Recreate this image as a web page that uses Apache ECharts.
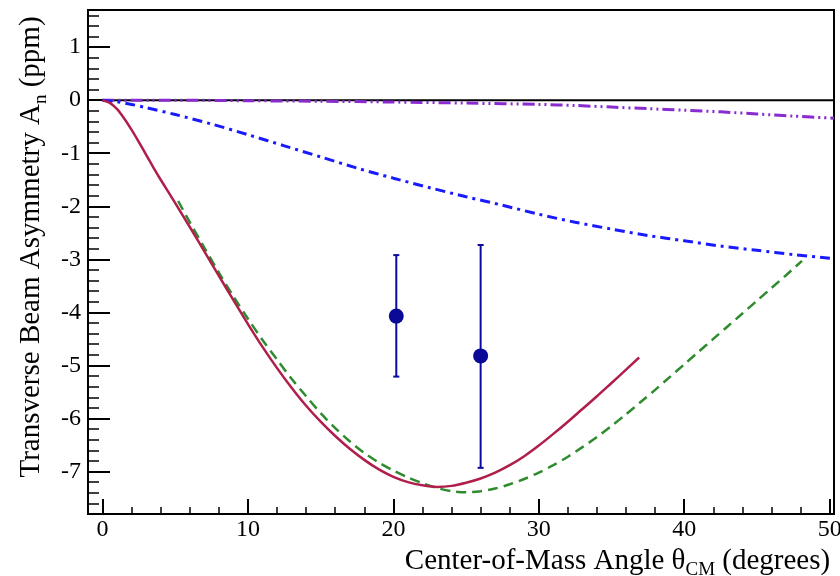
<!DOCTYPE html>
<html>
<head>
<meta charset="utf-8">
<script src="https://cdn.jsdelivr.net/npm/echarts@6/dist/echarts.min.js"></script>
<style>
  html, body { margin: 0; padding: 0; background: #fff; }
  #chart { width: 840px; height: 576px; }
</style>
</head>
<body>
<div id="chart"></div>
<script>
// curves: [angle (deg), asymmetry (ppm)]
const redCurve = [
  [0, 0], [0.5, -0.05], [1, -0.17], [1.5, -0.35], [2, -0.56], [2.5, -0.79], [3, -1.03],
  [3.5, -1.27], [4, -1.5], [5, -1.94], [6, -2.39], [7, -2.85], [8, -3.31], [9, -3.77],
  [10, -4.22], [11, -4.65], [12, -5.05], [13, -5.42], [14, -5.76], [15, -6.06], [16, -6.33],
  [17, -6.57], [18, -6.78], [19, -6.96], [20, -7.1], [21, -7.2], [22, -7.26], [23, -7.29],
  [24, -7.27], [25, -7.21], [26, -7.13], [27, -7.02], [28, -6.88], [29, -6.71], [30, -6.51],
  [31, -6.29], [32, -6.06], [33, -5.82], [34, -5.58], [35, -5.33], [36, -5.08], [36.9, -4.85]
];
const greenCurve = [
  [5.2, -1.9], [6, -2.3], [7, -2.78], [8, -3.25], [9, -3.7], [10, -4.12], [11, -4.52],
  [12, -4.89], [13, -5.25], [14, -5.58], [15, -5.9], [16, -6.18], [17, -6.43], [18, -6.65],
  [19, -6.83], [20, -6.98], [21, -7.11], [22, -7.22], [23, -7.31], [24, -7.37], [25, -7.39],
  [26, -7.37], [27, -7.32], [28, -7.24], [29, -7.14], [30, -7.02], [31, -6.88], [32, -6.72],
  [33, -6.54], [34, -6.35], [35, -6.14], [36, -5.92], [37, -5.69], [38, -5.46], [39, -5.22],
  [40, -4.98], [41, -4.74], [42, -4.5], [43, -4.26], [44, -4.02], [45, -3.78], [46, -3.54],
  [47, -3.3], [48.1, -3.03]
];
const blueCurve = [
  [0, 0], [1, -0.03], [2, -0.08], [3, -0.14], [5, -0.27], [7.5, -0.45], [10, -0.65],
  [12.5, -0.86], [15, -1.07], [17.5, -1.28], [20, -1.47], [22.5, -1.65], [25, -1.82],
  [27.5, -1.98], [30, -2.15], [32.5, -2.3], [35, -2.43], [37.5, -2.55], [40, -2.65],
  [42.5, -2.75], [45, -2.83], [47.5, -2.91], [50, -2.98], [50.3, -2.99]
];
const purpleCurve = [
  [0, 0], [5, 0], [10, -0.01], [15, -0.02], [20, -0.035], [25, -0.055], [30, -0.08],
  [32.5, -0.1], [35, -0.13], [37.5, -0.16], [40, -0.19], [42.5, -0.22], [45, -0.26],
  [47.5, -0.3], [50.3, -0.34]
];
const zeroLine = [[0, 0], [50.3, 0]];
// data points: [angle, value, low, high]
const measured = [
  [20.2, -4.07, -5.21, -2.92],
  [26.0, -4.82, -6.93, -2.73]
];

const xMajor = [0, 10, 20, 30, 40, 50];
const xMinor = [];
for (let v = 2; v < 50; v += 2) if (v % 10 !== 0) xMinor.push(v);
const yMajor = [-7, -6, -5, -4, -3, -2, -1, 0, 1];
const yMinor = [];
for (let i = -39; i <= 8; i++) if (i % 5 !== 0) yMinor.push(+(i * 0.2).toFixed(1));

const X_MIN = -1, X_MAX = 50.3, Y_MIN = -7.8, Y_MAX = 1.7;
const serif = '"Liberation Serif", "DejaVu Serif", serif';

const chart = echarts.init(document.getElementById('chart'), null, { renderer: 'canvas' });

const box = { left: 88, top: 10, right: 6, bottom: 62, outerBoundsMode: 'none', containLabel: false };
const subStyle = { fontFamily: serif, fontSize: 19, verticalAlign: 'bottom', lineHeight: 14, padding: [0, 0, -4, 0] };

const option = {
  animation: false,
  backgroundColor: '#fff',
  grid: [
    Object.assign({ show: true, borderColor: '#000', borderWidth: 2, backgroundColor: 'transparent' }, box),
    Object.assign({ show: false }, box)
  ],
  xAxis: [
    {
      type: 'value', gridIndex: 0, min: X_MIN, max: X_MAX,
      name: 'Center-of-Mass Angle θ{sub|CM} (degrees)',
      nameLocation: 'middle', nameGap: 9,
      nameTextStyle: {
        fontFamily: serif, fontSize: 29, color: '#000', padding: [0, 0, 0, 313],
        rich: { sub: subStyle }
      },
      axisLine: { show: true, onZero: false, lineStyle: { color: '#000', width: 2 } },
      axisTick: { show: true, inside: true, length: 15, customValues: xMajor, lineStyle: { color: '#000', width: 2 } },
      axisLabel: { show: true, customValues: xMajor, margin: 4, fontFamily: serif, fontSize: 24, color: '#000' },
      splitLine: { show: false }
    },
    {
      type: 'value', gridIndex: 1, min: X_MIN, max: X_MAX,
      axisLine: { show: false, onZero: false },
      axisTick: { show: true, inside: true, length: 7, customValues: xMinor, lineStyle: { color: '#000', width: 1.5 } },
      axisLabel: { show: false },
      splitLine: { show: false }
    }
  ],
  yAxis: [
    {
      type: 'value', gridIndex: 0, min: Y_MIN, max: Y_MAX,
      name: 'Transverse Beam Asymmetry A{sub|n} (ppm)',
      nameLocation: 'middle', nameGap: 38, nameRotate: 90,
      nameTextStyle: {
        fontFamily: serif, fontSize: 29, color: '#000', padding: [0, 0, 0, 30],
        rich: { sub: subStyle }
      },
      axisLine: { show: true, onZero: false, lineStyle: { color: '#000', width: 2 } },
      axisTick: { show: true, inside: true, length: 22, customValues: yMajor, lineStyle: { color: '#000', width: 2 } },
      axisLabel: { show: true, customValues: yMajor, margin: 7, fontFamily: serif, fontSize: 24, color: '#000' },
      splitLine: { show: false }
    },
    {
      type: 'value', gridIndex: 1, min: Y_MIN, max: Y_MAX,
      axisLine: { show: false, onZero: false },
      axisTick: { show: true, inside: true, length: 11, customValues: yMinor, lineStyle: { color: '#000', width: 1.5 } },
      axisLabel: { show: false },
      splitLine: { show: false }
    }
  ],
  series: [
    {
      type: 'line', data: zeroLine, showSymbol: false, silent: true,
      lineStyle: { color: '#000', width: 2 }
    },
    {
      type: 'line', data: purpleCurve, showSymbol: false, smooth: 0.3,
      lineStyle: { color: '#8a2bd0', width: 3, type: [12, 4, 2, 4, 2, 4] }
    },
    {
      type: 'line', data: blueCurve, showSymbol: false, smooth: 0.3,
      lineStyle: { color: '#1a1aff', width: 3, type: [10, 5, 3, 5] }
    },
    {
      type: 'line', data: greenCurve, showSymbol: false, smooth: 0.3,
      lineStyle: { color: '#2e8b2e', width: 2.5, type: [10, 6] }
    },
    {
      type: 'line', data: redCurve, showSymbol: false, smooth: 0.3,
      lineStyle: { color: '#b01e4a', width: 2.5 }
    },
    {
      type: 'custom', data: measured,
      renderItem: (params, api) => {
        const x = api.value(0);
        const lo = api.coord([x, api.value(2)]);
        const hi = api.coord([x, api.value(3)]);
        const st = { stroke: '#0a0aa0', lineWidth: 2 };
        return {
          type: 'group',
          children: [
            { type: 'line', shape: { x1: hi[0], y1: hi[1], x2: lo[0], y2: lo[1] }, style: st },
            { type: 'line', shape: { x1: hi[0] - 3, y1: hi[1], x2: hi[0] + 3, y2: hi[1] }, style: st },
            { type: 'line', shape: { x1: lo[0] - 3, y1: lo[1], x2: lo[0] + 3, y2: lo[1] }, style: st }
          ]
        };
      },
      z: 5
    },
    {
      type: 'scatter', data: measured.map((d) => [d[0], d[1]]),
      symbol: 'circle', symbolSize: 15,
      itemStyle: { color: '#0a0a96', opacity: 1 }, z: 6
    }
  ]
};
chart.setOption(option);
</script>
</body>
</html>
